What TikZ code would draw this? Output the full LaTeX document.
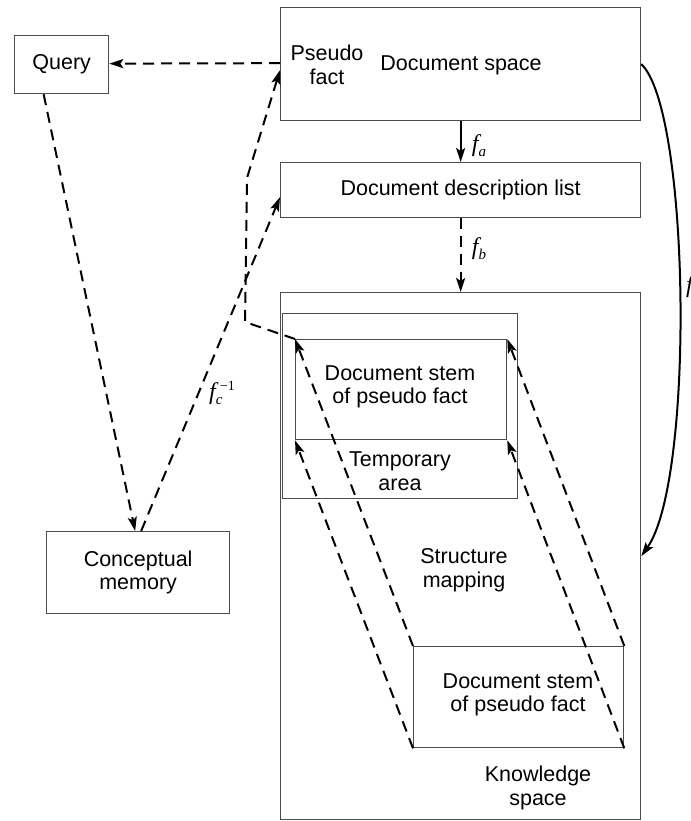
\documentclass[tikz,border=0pt]{standalone}
\usepackage{fontspec}
\setmainfont{Liberation Sans}
\newfontfamily\labserif{Liberation Serif}
\usetikzlibrary{arrows.meta,calc}
\newcommand{\flab}[1]{{\labserif\itshape f\raisebox{-5pt}{\fontsize{15}{15}\selectfont #1}}}
\newcommand{\finvlab}{{\labserif\itshape f\rlap{\raisebox{-5pt}{\fontsize{15}{15}\selectfont c}}\kern4pt\raisebox{9pt}{\fontsize{14}{14}\selectfont\upshape −1}}}
\begin{document}
\begin{tikzpicture}[x=1pt,y=-1pt,
  box/.style={draw=black!70,line width=1.3pt,rectangle,inner sep=0pt,anchor=north west},
  lbl/.style={align=center,font=\fontsize{21.5}{23.5}\selectfont,inner sep=0pt},
  mlbl/.style={font=\fontsize{24}{26}\selectfont,inner sep=0pt},
  tip/.style={-{Stealth[length=14pt,width=9pt,inset=3pt]}},
  dasharrow/.style={tip,line width=2pt,dash pattern=on 11pt off 7pt},
  solidarrow/.style={tip,line width=2pt}]
\useasboundingbox (0,0) rectangle (690,821);
\fill[white] (0,0) rectangle (690,821);
% boxes
\node[box,minimum width=360pt,minimum height=113pt] (ds) at (280,7) {};
\node[box,minimum width=360pt,minimum height=55pt] (ddl) at (280,162) {};
\node[box,minimum width=360pt,minimum height=527pt] (ks) at (280,292) {};
\node[box,minimum width=235pt,minimum height=185pt] (tmp) at (282,313) {};
\node[box,minimum width=211pt,minimum height=100pt] (st1) at (295,339) {};
\node[box,minimum width=210pt,minimum height=101pt] (st2) at (413,646) {};
\node[box,minimum width=94pt,minimum height=58pt] (query) at (14,35) {};
\node[box,minimum width=183pt,minimum height=82pt] (cm) at (46,531) {};
% texts
\node[lbl] (tquery) at (query.center) {Query};
\node[lbl] (tcm) at (cm.center) {Conceptual\\memory};
\node[lbl] (tpf) at (327,65) {Pseudo\\fact};
\node[lbl] (tds) at (461,65) {Document space};
\node[lbl] (tddl) at (ddl.center) {Document description list};
\node[lbl] (tst1) at (400,387) {Document stem\\of pseudo fact};
\node[lbl] (ttmp) at (400,471) {Temporary\\area};
\node[lbl] (tsm) at (464,570) {Structure\\mapping};
\node[lbl] (tst2) at (518,695) {Document stem\\of pseudo fact};
\node[lbl] (tks) at (538,788) {Knowledge\\space};
% connectors
\draw[solidarrow] (ds.south) -- (ddl.north);
\node[mlbl] (tfa) at (479,146) {\flab{a}};
\draw[dasharrow] (ddl.south) -- (ks.north);
\node[mlbl] (tfb) at (479,249) {\flab{b}};
\draw[dasharrow] ([yshift=1pt]ds.west) -- ([yshift=1pt]query.east);
\draw[dasharrow] ([xshift=-18pt]query.south) -- ([xshift=-3pt]cm.north);
\draw[dasharrow] ([xshift=3pt]cm.north) -- ([yshift=-7pt]ddl.west);
\node[mlbl] (tfc1) at (222,393) {\finvlab};
\coordinate (b1) at (245,322);
\coordinate (b2) at (247,178);
\coordinate (pfend) at ([yshift=-6pt]ds.west);
\draw[dasharrow] (st1.north west) -- (b1) -- (b2) -- (pfend);
\draw[dasharrow] (st2.north west) -- (st1.north west);
\draw[dasharrow] (st2.south west) -- (st1.south west);
\draw[dasharrow] (st2.north east) -- (st1.north east);
\draw[dasharrow] (st2.south east) -- (st1.south east);
\draw[solidarrow] (ds.east) .. controls (690,110) and (695,480) .. (ks.east);
\node[mlbl,anchor=west] (tfc) at (686,287) {\flab{c}};
\end{tikzpicture}
\end{document}
